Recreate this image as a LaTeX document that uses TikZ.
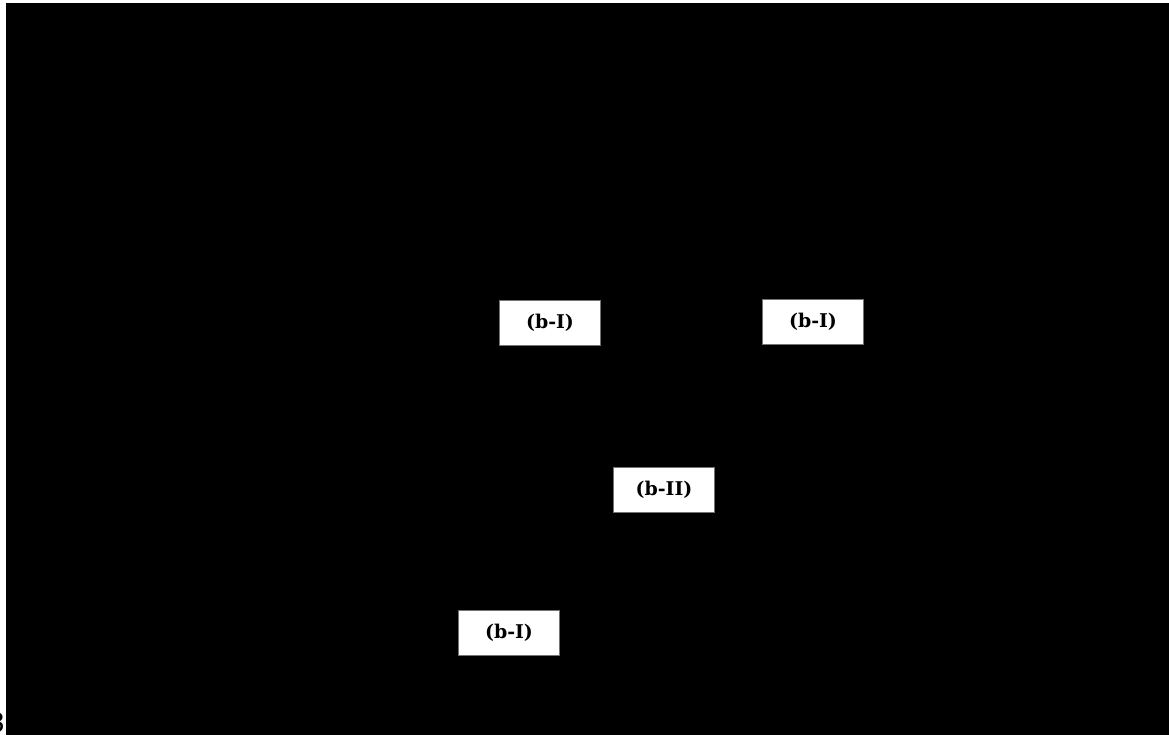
\documentclass[tikz,border=0pt]{standalone}
\usepackage{fontspec}
\setmainfont{DejaVu Serif}
\newfontfamily\edgefont{DejaVu Sans}
\begin{document}
\begin{tikzpicture}[x=1bp,y=-1bp,
  lbl/.style={fill=white, draw=black!55, line width=0.6bp, minimum width=101bp, minimum height=45bp, inner sep=0pt, font=\bfseries\fontsize{19}{22}\selectfont}]
\useasboundingbox (0,0) rectangle (1169,735);
\fill[white] (0,0) rectangle (1169,735);
\fill[black] (6,3) rectangle (1169,735);
\node[lbl] (b1) at (550,322.5) {(b-I)};
\node[lbl] (b2) at (813,322) {(b-I)};
\node[lbl] (b3) at (664,489.5) {(b-II)};
\node[lbl] (b4) at (509,632.5) {(b-I)};
\begin{scope}
  \clip (0,3) rectangle (6,735);
  \node[anchor=base east, inner sep=0pt, font=\edgefont\fontsize{27}{30}\selectfont] (edge) at (5.5,732) {3};
\end{scope}
\end{tikzpicture}
\end{document}
